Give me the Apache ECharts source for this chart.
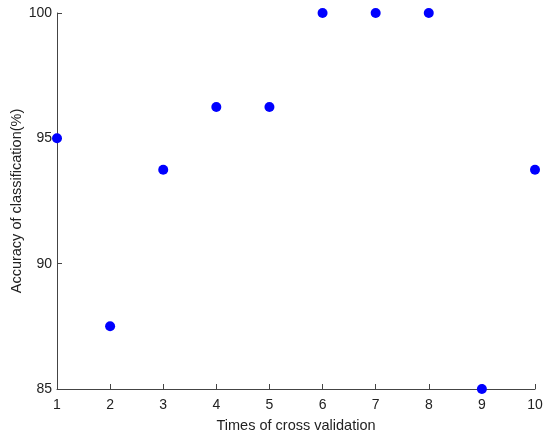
<!DOCTYPE html>
<html>
	<head>
		<meta charset="utf-8" />
		<title>cross validation</title>
		<style type="text/css">
			body,
			html,
			#chart {
				width: 100%;
				height: 100%;
				overflow: hidden;
				margin: 0;
				background: #fff;
			}
		</style>
	</head>
	<body>
		<div id="chart"></div>
		<script src="https://cdn.jsdelivr.net/npm/echarts@6/dist/echarts.min.js"></script>
		<script>
			// 数据
			var folds = [1, 2, 3, 4, 5, 6, 7, 8, 9, 10];
			var accuracy = [95, 87.5, 93.75, 96.25, 96.25, 100, 100, 100, 85, 93.75];

			var points = folds.map(function (f, i) {
				return [f, accuracy[i]];
			});

			var dom = document.getElementById('chart');
			var myChart = echarts.init(dom);
			var axisColor = '#444';
			var font = 'Liberation Sans';

			var option = {
				animation: false,
				textStyle: { fontFamily: font },
				grid: {
					left: 57,
					right: 15,
					top: 13,
					bottom: 49,
					containLabel: false,
					outerBoundsMode: 'none'
				},
				xAxis: {
					type: 'value',
					min: 1,
					max: 10,
					interval: 1,
					name: 'Times of cross validation',
					nameLocation: 'middle',
					nameGap: 29,
					nameMoveOverlap: false,
					nameTextStyle: { color: '#222', fontSize: 14.5, fontFamily: font },
					axisLine: { lineStyle: { color: axisColor, width: 1 } },
					axisTick: { inside: true, length: 5, lineStyle: { color: axisColor } },
					axisLabel: { color: '#222', fontSize: 14, margin: 9 },
					splitLine: { show: false }
				},
				yAxis: {
					type: 'value',
					min: 85,
					max: 100,
					interval: 5,
					name: 'Accuracy of classification(%)',
					nameLocation: 'middle',
					nameGap: 33,
					nameMoveOverlap: false,
					nameTextStyle: { color: '#222', fontSize: 14.5, fontFamily: font },
					axisLine: { show: true, lineStyle: { color: axisColor, width: 1 } },
					axisTick: { show: true, inside: true, length: 5, lineStyle: { color: axisColor } },
					axisLabel: { color: '#222', fontSize: 14, margin: 5 },
					splitLine: { show: false }
				},
				series: [
					{
						type: 'scatter',
						data: points,
						symbolSize: 10,
						clip: false,
						itemStyle: { color: '#0000ff', opacity: 1 }
					}
				]
			};
			myChart.setOption(option);
		</script>
	</body>
</html>
